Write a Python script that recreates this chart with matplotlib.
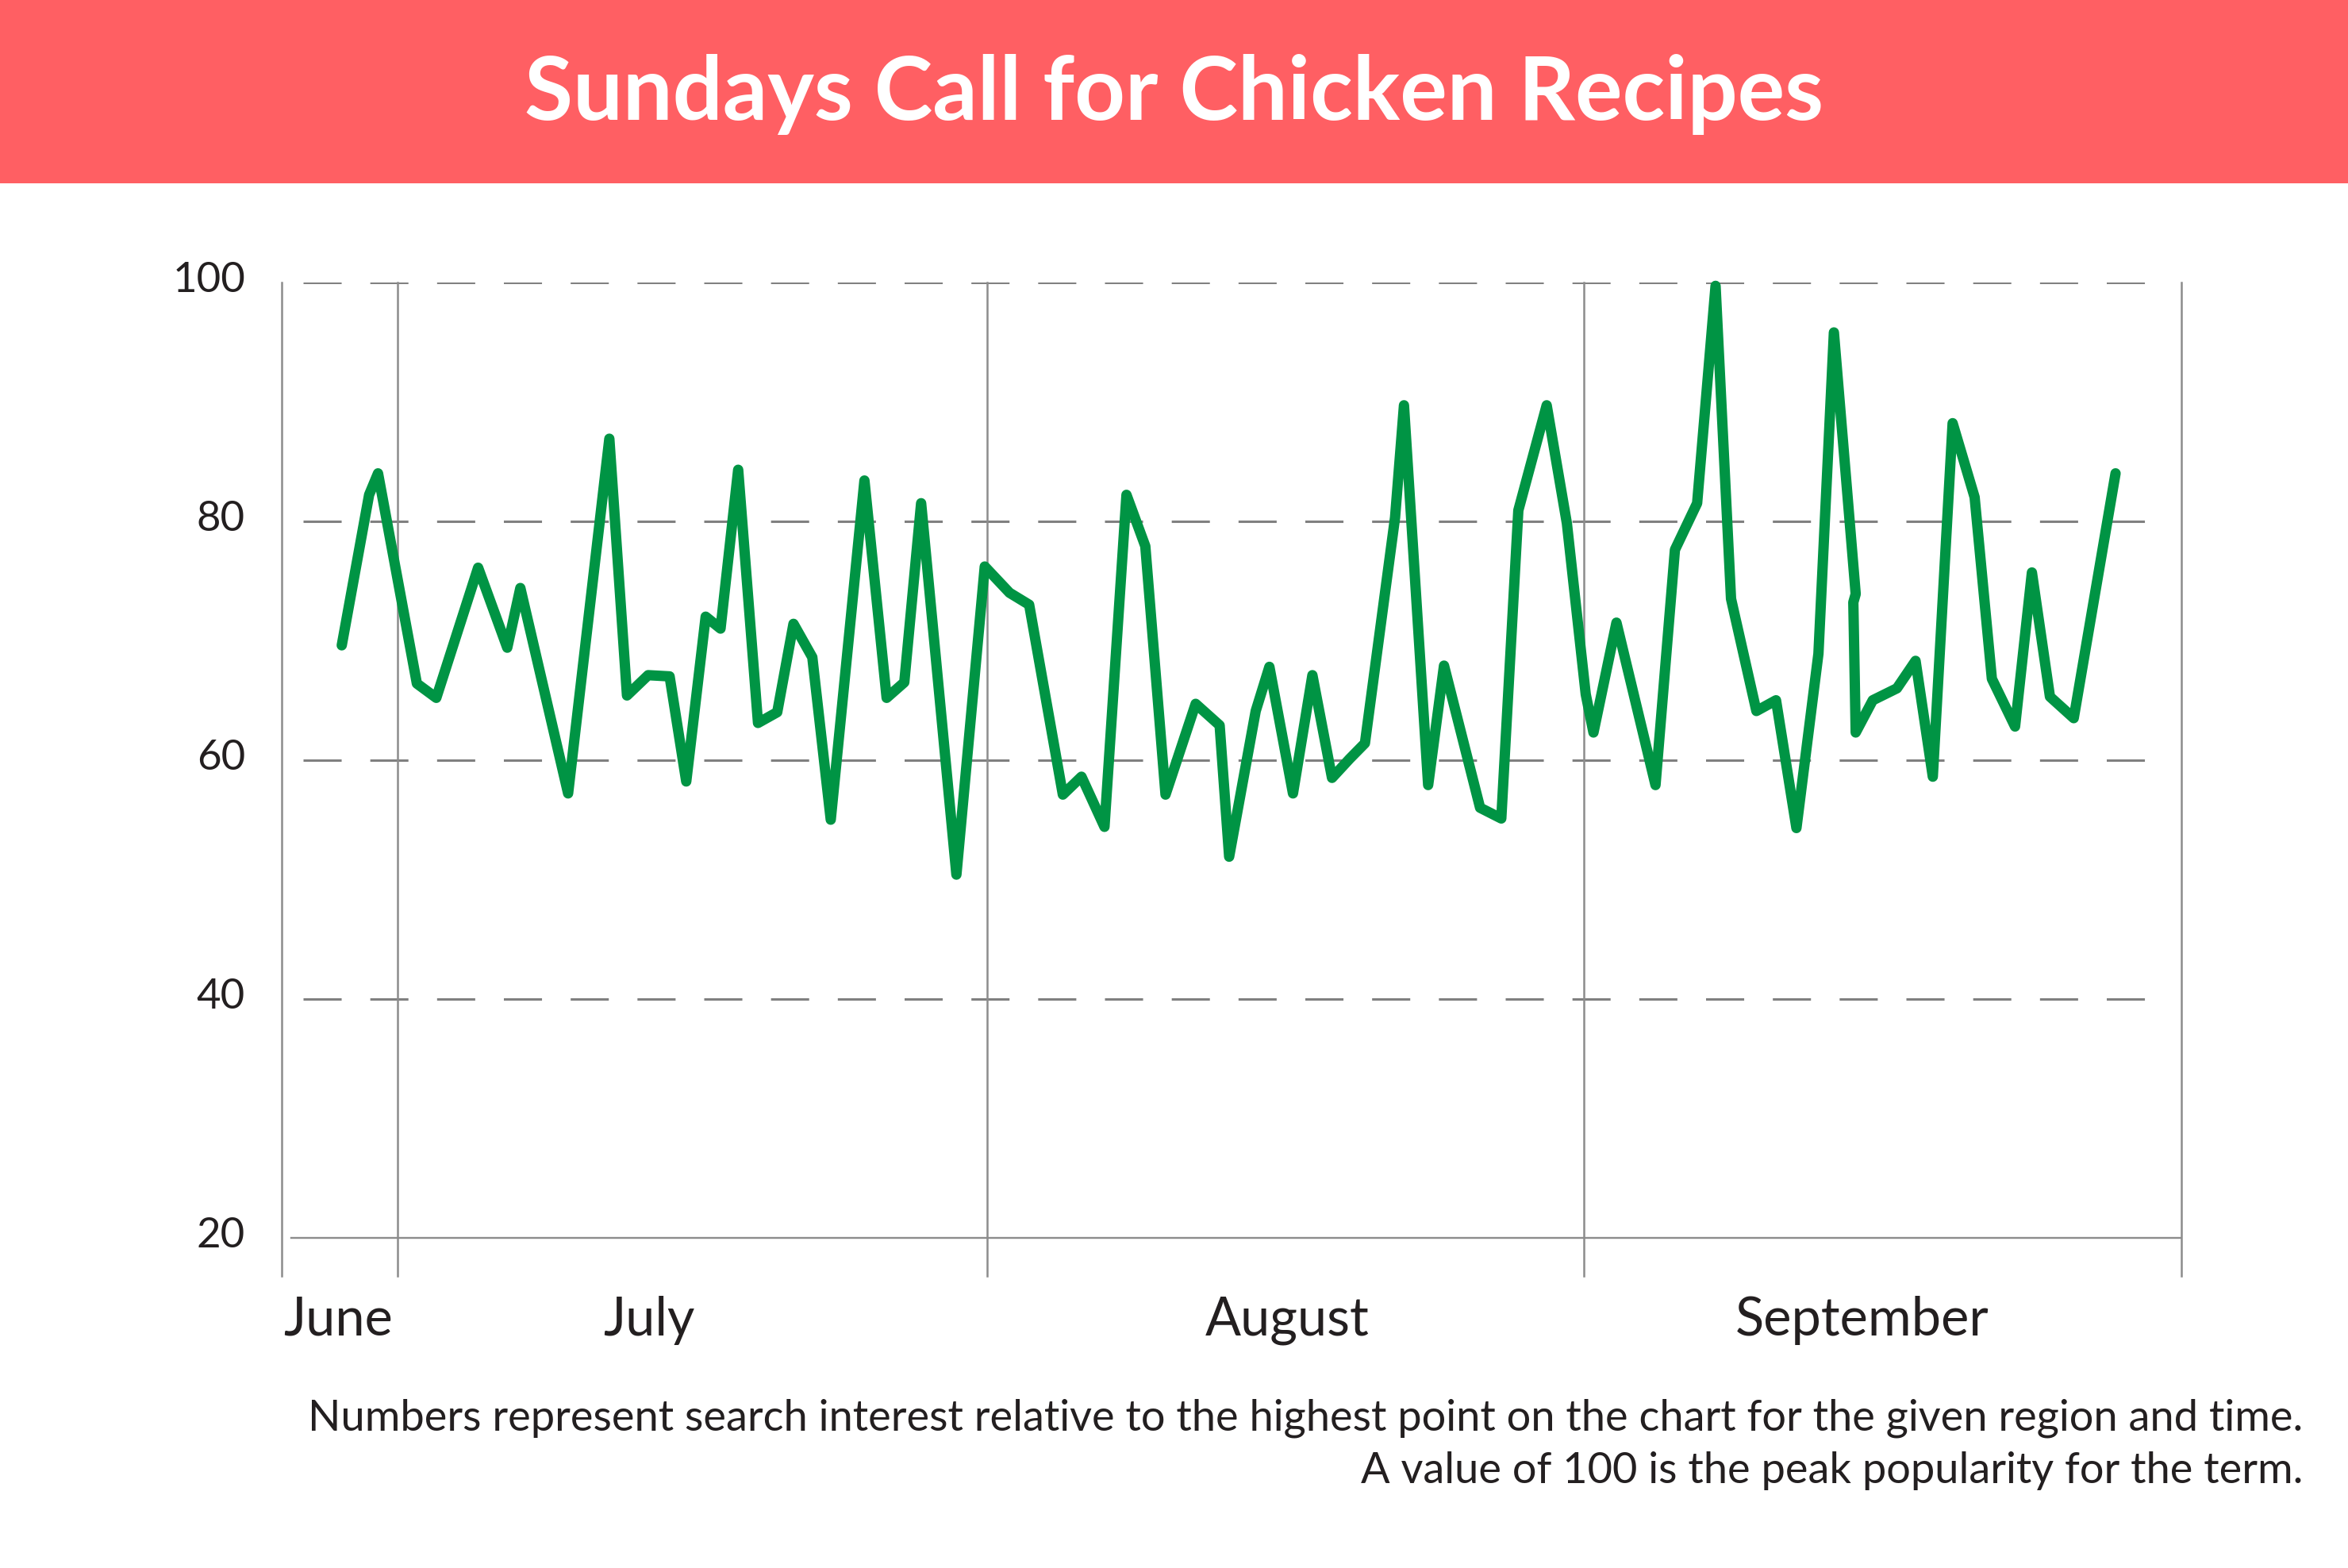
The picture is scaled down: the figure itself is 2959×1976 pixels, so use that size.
import matplotlib
matplotlib.use("Agg")
import matplotlib.pyplot as plt
from matplotlib.patches import Rectangle
from matplotlib.transforms import offset_copy, blended_transform_factory

plt.rcParams['font.family'] = ['Lato', 'DejaVu Sans']
plt.rcParams['lines.scale_dashes'] = False

# ---------------- data ----------------
title = "Sundays Call for Chicken Recipes"
footnote_lines = ["Numbers represent search interest relative to the highest point on the chart for the given region and time.",
                  "A value of 100 is the peak popularity for the term."]
month_labels = ["June", "July", "August", "September"]
month_label_x = [-3.0, 12.7, 44.9, 73.9]        # days from July 1
month_lines = [0.0, 29.74, 59.88, 90.01]          # month boundaries (days from July 1)
y_ticks = [20, 40, 60, 80, 100]
grid_vals = [40, 60, 80, 100]

days = [-2.80, -1.42, -0.97, 0.99, 1.97, 4.08, 5.55, 6.21, 8.62, 10.70,
        11.59, 12.66, 13.74, 14.58, 15.56, 16.31, 17.20, 18.20, 19.17, 19.99,
        20.94, 21.87, 23.57, 24.69, 25.58, 26.43, 28.21, 29.64, 30.89, 31.88,
        33.58, 34.52, 35.68, 36.79, 37.74, 38.76, 40.28, 41.49, 41.97, 43.31,
        44.00, 45.19, 46.17, 47.16, 48.05, 48.82, 50.34, 50.79, 52.01, 52.81,
        54.63, 55.70, 56.56, 57.99, 59.01, 59.96, 60.35, 61.51, 63.48, 64.46,
        65.58, 66.51, 67.29, 68.57, 69.56, 70.59, 71.70, 72.48, 73.58, 73.46,
        73.58, 74.44, 75.66, 76.60, 77.47, 78.47, 79.58, 80.45, 81.62, 82.47,
        83.38, 84.58, 86.69]
interest = [69.6, 82.2, 84.0, 66.4, 65.2, 76.1, 69.4, 74.4, 57.2, 86.9,
            65.4, 67.1, 67.0, 58.2, 72.0, 71.0, 84.3, 63.1, 64.0, 71.4,
            68.6, 55.0, 83.4, 65.2, 66.5, 81.5, 50.4, 76.2, 74.0, 73.0,
            57.1, 58.6, 54.4, 82.2, 77.9, 57.1, 64.7, 62.9, 51.9, 64.1,
            67.8, 57.2, 67.1, 58.5, 60.1, 61.4, 80.3, 89.7, 57.9, 67.9,
            56.0, 55.1, 80.9, 89.7, 79.8, 65.5, 62.3, 71.5, 57.9, 77.6,
            81.5, 99.7, 73.5, 64.1, 65.0, 54.3, 68.9, 95.8, 73.9, 73.2,
            62.3, 65.0, 66.0, 68.3, 58.6, 88.2, 82.0, 66.8, 62.8, 75.7,
            65.3, 63.5, 84.0]

# ---------------- style ----------------
W, H, DPI = 2959, 1976, 200
BANNER = '#FF5F63'
GREEN = '#009444'
GRID = '#808080'
VLINE = '#8c8c8c'
TEXT = '#231f20'

fig = plt.figure(figsize=(W / DPI, H / DPI), dpi=DPI)
fig.patch.set_facecolor('white')

# title banner
fig.patches.append(Rectangle((0, 1 - 231 / H), 1, 231 / H, transform=fig.transFigure,
                             facecolor=BANNER, edgecolor='none', zorder=0))
t_title = fig.text(0.5, 1 - 151 / H, title, ha='center', va='baseline',
                   color='white', fontsize=39, fontweight='bold')

# axes
x_left = -5.83
y_bottom = 16.8
ax_top_px, ax_bot_px = 355.7, 1607.9
ax = fig.add_axes([355 / W, 1 - ax_bot_px / H, (2749 - 355) / W, (ax_bot_px - ax_top_px) / H])
ax.set_xlim(x_left, month_lines[-1])
ax.set_ylim(y_bottom, 100)
ax.axis('off')

# dashed gridlines
for g in grid_vals:
    ax.plot([-4.76, 88.97], [g, g], color=GRID, lw=1.1,
            linestyle=(0, (17.3, 13.0)), solid_capstyle='butt', zorder=1)
# baseline at 20
ax.plot([-5.34, month_lines[-1]], [20, 20], color=VLINE, lw=0.85, zorder=1)
# vertical lines (axis + month boundaries)
for xv in [x_left] + month_lines:
    ax.plot([xv, xv], [y_bottom, 100], color=VLINE, lw=0.9, zorder=1, clip_on=False)

# data line
ax.plot(days, interest, color=GREEN, lw=4.7, solid_joinstyle='round',
        solid_capstyle='round', zorder=3, clip_on=False)

# y tick labels
ytrans = offset_copy(blended_transform_factory(ax.transAxes, ax.transData),
                     fig=fig, x=0, y=-12.6 * 72 / DPI, units='points')
for v in y_ticks:
    ax.text(-0.0192, v, str(v), transform=ytrans, ha='right', va='baseline',
            fontsize=19, color=TEXT)

# month labels
mtrans = blended_transform_factory(ax.transData, ax.transAxes)
for lab, xv in zip(month_labels, month_label_x):
    ax.text(xv, -(1682.7 - ax_bot_px) / (ax_bot_px - ax_top_px), lab, transform=mtrans,
            ha='center', va='baseline', fontsize=24, color=TEXT)

# footnote
f1 = fig.text(2902 / W, 1 - 1802.7 / H, footnote_lines[0], ha='right', va='baseline',
              fontsize=20.5, color=TEXT)
f2 = fig.text(2902 / W, 1 - 1869 / H, footnote_lines[1], ha='right', va='baseline',
              fontsize=20.5, color=TEXT)

# fit widths of long texts to the reference
fig.canvas.draw()
r = fig.canvas.get_renderer()
def fit(t, target):
    bb = t.get_window_extent(r)
    t.set_fontsize(t.get_fontsize() * target / bb.width)
fit(t_title, 1638)
fit(f1, 2519)
f2.set_fontsize(f1.get_fontsize())

fig.savefig('out.png', dpi=DPI, facecolor='white')
